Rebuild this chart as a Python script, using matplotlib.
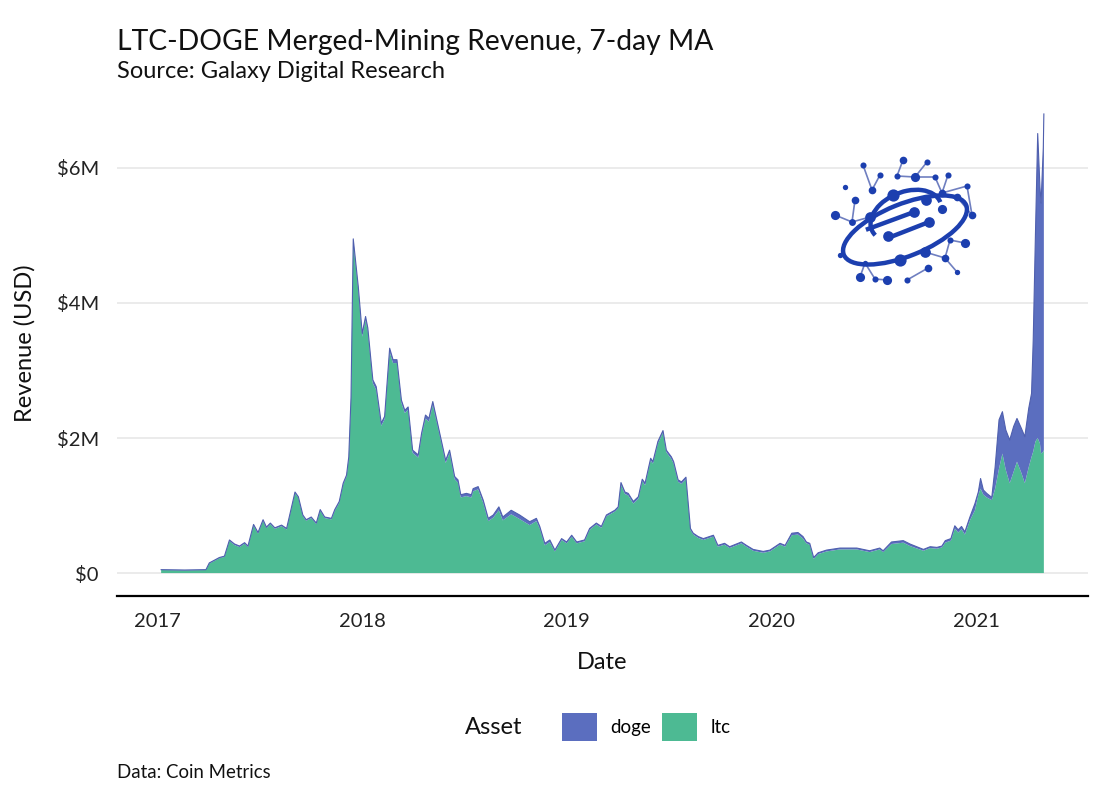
import matplotlib
matplotlib.use("Agg")
import matplotlib.pyplot as plt
from matplotlib.patches import Patch, Ellipse, Arc
from matplotlib.ticker import FuncFormatter
import numpy as np
import pandas as pd

# ---------------- data (USD millions, 7-day MA) ----------------
dates = [
    "2017-01-07", "2017-02-18", "2017-03-28", "2017-04-03", "2017-04-21", "2017-04-30",
    "2017-05-09", "2017-05-18", "2017-05-27", "2017-06-05", "2017-06-11", "2017-06-21",
    "2017-06-29", "2017-07-08", "2017-07-14", "2017-07-21", "2017-07-29", "2017-08-10",
    "2017-08-19", "2017-09-03", "2017-09-09", "2017-09-17", "2017-09-23", "2017-10-02",
    "2017-10-11", "2017-10-18", "2017-10-26", "2017-11-07", "2017-11-13", "2017-11-21",
    "2017-11-28", "2017-12-04", "2017-12-08", "2017-12-12", "2017-12-16", "2017-12-25",
    "2018-01-01", "2018-01-07", "2018-01-11", "2018-01-20", "2018-01-26", "2018-02-04",
    "2018-02-10", "2018-02-19", "2018-02-25", "2018-03-04", "2018-03-12", "2018-03-18",
    "2018-03-24", "2018-04-01", "2018-04-11", "2018-04-17", "2018-04-24", "2018-04-30",
    "2018-05-07", "2018-05-19", "2018-05-30", "2018-06-06", "2018-06-15", "2018-06-21",
    "2018-06-26", "2018-07-06", "2018-07-15", "2018-07-18", "2018-07-27", "2018-08-05",
    "2018-08-14", "2018-08-23", "2018-09-02", "2018-09-09", "2018-09-24", "2018-10-09",
    "2018-10-27", "2018-11-08", "2018-11-14", "2018-11-23", "2018-12-02", "2018-12-11",
    "2018-12-23", "2019-01-01", "2019-01-10", "2019-01-19", "2019-02-02", "2019-02-11",
    "2019-02-23", "2019-03-04", "2019-03-13", "2019-03-28", "2019-04-03", "2019-04-08",
    "2019-04-15", "2019-04-21", "2019-04-30", "2019-05-09", "2019-05-16", "2019-05-21",
    "2019-05-31", "2019-06-04", "2019-06-13", "2019-06-22", "2019-06-28", "2019-07-07",
    "2019-07-11", "2019-07-19", "2019-07-25", "2019-08-02", "2019-08-10", "2019-08-15",
    "2019-08-24", "2019-09-02", "2019-09-20", "2019-09-28", "2019-10-10", "2019-10-19",
    "2019-11-09", "2019-11-18", "2019-11-30", "2019-12-18", "2019-12-30", "2020-01-17",
    "2020-01-26", "2020-02-07", "2020-02-18", "2020-02-27", "2020-03-04", "2020-03-10",
    "2020-03-17", "2020-03-25", "2020-04-09", "2020-05-03", "2020-06-02", "2020-06-25",
    "2020-07-13", "2020-07-19", "2020-08-03", "2020-08-24", "2020-09-05", "2020-09-29",
    "2020-10-11", "2020-10-23", "2020-11-01", "2020-11-07", "2020-11-17", "2020-11-24",
    "2020-11-30", "2020-12-06", "2020-12-12", "2020-12-21", "2020-12-30", "2021-01-05",
    "2021-01-09", "2021-01-14", "2021-01-20", "2021-01-29", "2021-02-04", "2021-02-11",
    "2021-02-17", "2021-02-23", "2021-03-02", "2021-03-09", "2021-03-15", "2021-03-23",
    "2021-03-29", "2021-04-05", "2021-04-10", "2021-04-13", "2021-04-17", "2021-04-21",
    "2021-04-25", "2021-04-27", "2021-05-01", "2021-05-02",
]

ltc = [
    0.045, 0.04, 0.045, 0.14, 0.22, 0.24,
    0.475, 0.415, 0.385, 0.435, 0.385, 0.705,
    0.585, 0.775, 0.665, 0.725, 0.655, 0.695,
    0.645, 1.185, 1.115, 0.845, 0.775, 0.815,
    0.725, 0.925, 0.815, 0.795, 0.92, 1.04,
    1.31, 1.43, 1.69, 2.56, 4.90, 4.19,
    3.50, 3.75, 3.58, 2.81, 2.71, 2.18,
    2.28, 3.28, 3.11, 3.11, 2.52, 2.37,
    2.42, 1.78, 1.71, 2.03, 2.29, 2.24,
    2.49, 2.05, 1.63, 1.78, 1.39, 1.34,
    1.12, 1.14, 1.12, 1.21, 1.24, 1.04,
    0.77, 0.82, 0.93, 0.78, 0.87, 0.80,
    0.71, 0.77, 0.66, 0.41, 0.46, 0.32,
    0.49, 0.44, 0.54, 0.44, 0.47, 0.64,
    0.72, 0.67, 0.84, 0.91, 0.96, 1.31,
    1.17, 1.15, 1.03, 1.10, 1.36, 1.30,
    1.67, 1.62, 1.92, 2.08, 1.79, 1.69,
    1.62, 1.35, 1.32, 1.39, 0.64, 0.57,
    0.52, 0.49, 0.54, 0.39, 0.42, 0.37,
    0.44, 0.39, 0.33, 0.30, 0.32, 0.42,
    0.39, 0.56, 0.57, 0.51, 0.44, 0.42,
    0.21, 0.28, 0.32, 0.35, 0.35, 0.31,
    0.35, 0.31, 0.43, 0.45, 0.40, 0.33,
    0.37, 0.36, 0.38, 0.45, 0.48, 0.66,
    0.60, 0.65, 0.57, 0.78, 0.93, 1.16,
    1.25, 1.16, 1.12, 1.08, 1.25, 1.55,
    1.77, 1.53, 1.33, 1.50, 1.65, 1.48,
    1.33, 1.57, 1.72, 1.80, 1.95, 2.00,
    1.92, 1.77, 1.80, 1.82,
]

doge = [
    0.005, 0.005, 0.005, 0.01, 0.01, 0.01,
    0.015, 0.015, 0.015, 0.015, 0.015, 0.015,
    0.015, 0.015, 0.015, 0.015, 0.015, 0.015,
    0.015, 0.015, 0.015, 0.015, 0.015, 0.015,
    0.015, 0.015, 0.015, 0.015, 0.02, 0.02,
    0.02, 0.02, 0.03, 0.04, 0.05, 0.05,
    0.05, 0.05, 0.05, 0.05, 0.05, 0.04,
    0.04, 0.05, 0.05, 0.05, 0.04, 0.04,
    0.04, 0.04, 0.04, 0.04, 0.05, 0.05,
    0.05, 0.04, 0.04, 0.04, 0.04, 0.04,
    0.04, 0.04, 0.04, 0.04, 0.04, 0.04,
    0.04, 0.04, 0.05, 0.05, 0.06, 0.06,
    0.05, 0.04, 0.03, 0.03, 0.03, 0.02,
    0.02, 0.02, 0.02, 0.02, 0.02, 0.02,
    0.02, 0.02, 0.02, 0.02, 0.02, 0.03,
    0.03, 0.03, 0.03, 0.03, 0.03, 0.03,
    0.03, 0.03, 0.03, 0.03, 0.03, 0.03,
    0.03, 0.03, 0.03, 0.03, 0.02, 0.02,
    0.02, 0.02, 0.02, 0.02, 0.02, 0.02,
    0.02, 0.02, 0.02, 0.02, 0.02, 0.02,
    0.02, 0.03, 0.03, 0.03, 0.02, 0.02,
    0.02, 0.02, 0.02, 0.02, 0.02, 0.02,
    0.02, 0.02, 0.03, 0.03, 0.03, 0.02,
    0.02, 0.02, 0.02, 0.03, 0.03, 0.04,
    0.04, 0.04, 0.04, 0.05, 0.10, 0.04,
    0.15, 0.07, 0.06, 0.04, 0.32, 0.72,
    0.62, 0.59, 0.64, 0.67, 0.64, 0.66,
    0.69, 0.87, 0.94, 1.65, 3.08, 4.51,
    3.80, 3.71, 4.50, 4.98,
]

series_labels = ["doge", "ltc"]
y_ticks = [0, 2e6, 4e6, 6e6]
x_tick_years = ["2017", "2018", "2019", "2020", "2021"]

title = "LTC-DOGE Merged-Mining Revenue, 7-day MA"
subtitle = "Source: Galaxy Digital Research"
caption = "Data: Coin Metrics"

# decorative logo (pixel coords in the 1100x806 canvas)
logo_dots = [
    (863, 165, 4), (903, 160, 5), (927, 162, 4), (880, 175, 4), (897, 176, 4),
    (915, 177, 6), (935, 177, 4), (948, 175, 4), (845, 187, 3.5), (872, 190, 5),
    (893, 195, 8), (926, 200, 7), (942, 193, 5), (957, 197, 5), (967, 186, 4),
    (972, 215, 5), (855, 200, 5), (835, 215, 6), (852, 222, 4.5), (870, 217, 7),
    (914, 212, 7), (929, 222, 7), (942, 209, 6), (888, 236, 7), (950, 240, 4),
    (965, 243, 6), (925, 252, 7), (900, 260, 8), (945, 258, 5), (840, 255, 3.5),
    (865, 263, 3.5), (860, 277, 6), (875, 279, 4), (887, 280, 6), (907, 280, 4),
    (928, 268, 5), (957, 272, 3.5),
]
logo_links = [
    (863, 165, 872, 190), (880, 175, 872, 190), (903, 160, 897, 176), (897, 176, 915, 177),
    (927, 162, 915, 177), (915, 177, 935, 177), (935, 177, 942, 193), (948, 175, 942, 193),
    (942, 193, 967, 186), (967, 186, 972, 215), (957, 197, 972, 215), (835, 215, 852, 222),
    (852, 222, 855, 200), (852, 222, 870, 217), (950, 240, 965, 243), (950, 240, 945, 258),
    (945, 258, 957, 272), (925, 252, 945, 258), (928, 268, 907, 280), (865, 263, 860, 277),
    (865, 263, 875, 279), (875, 279, 887, 280),
]

# ---------------- figure ----------------
W, H = 1100, 806
plt.rcParams["font.family"] = ["Lato", "DejaVu Sans"]
fig = plt.figure(figsize=(W / 100, H / 100), dpi=100)
fig.patch.set_facecolor("white")


def fx(x):
    return x / W


def fy(y):
    return 1 - y / H


left, right, top, bottom = 117, 1088, 91, 596
ax = fig.add_axes([fx(left), fy(bottom), fx(right) - fx(left), fy(top) - fy(bottom)])

d = pd.to_datetime(dates)
ltc_usd = np.array(ltc) * 1e6
doge_usd = np.array(doge) * 1e6

col_doge = "#5B6EBF"
col_ltc = "#4DBA93"

ax.stackplot(d, ltc_usd, doge_usd, colors=[col_ltc, col_doge], linewidth=0, zorder=2)
ax.plot(d, ltc_usd + doge_usd, color="#4F5FAE", lw=0.8, zorder=3)

# ggplot-like expansion of 5%
span = d.max() - d.min()
ax.set_xlim(d.min() - 0.05 * span, d.max() + 0.05 * span)
ymax = max(ltc_usd + doge_usd)
ax.set_ylim(-0.05 * ymax, ymax * 1.05)

ax.set_yticks(y_ticks)
ax.yaxis.set_major_formatter(FuncFormatter(lambda v, p: "$0" if v == 0 else f"${v/1e6:.0f}M"))
ax.set_xticks(pd.to_datetime([f"{yr}-01-01" for yr in x_tick_years]))
ax.set_xticklabels(x_tick_years)
ax.grid(axis="y", color="#E6E6E6", lw=1.1, zorder=0)
ax.grid(axis="x", visible=False)
ax.set_axisbelow(True)
for s in ["top", "right", "left"]:
    ax.spines[s].set_visible(False)
ax.spines["bottom"].set_color("black")
ax.spines["bottom"].set_linewidth(1.6)
ax.tick_params(axis="both", length=0, labelsize=14.5, colors="#222222")
ax.tick_params(axis="y", pad=13)
ax.tick_params(axis="x", pad=12)
ax.set_facecolor("white")

ax.set_ylabel("Revenue (USD)", fontsize=17, color="#111111", labelpad=15)
ax.set_xlabel("Date", fontsize=17, color="#111111", labelpad=16)

# titles
fig.text(fx(117), fy(42), title, fontsize=20.3, color="#111111", va="center", ha="left")
fig.text(fx(117), fy(71), subtitle, fontsize=17, color="#111111", va="center", ha="left")
fig.text(fx(117), fy(773), caption, fontsize=13.4, color="#111111", va="center", ha="left")

# legend
fig.text(fx(494), fy(727), "Asset", fontsize=17, color="#111111", va="center", ha="center")
handles = [Patch(facecolor=col_doge, edgecolor="none"), Patch(facecolor=col_ltc, edgecolor="none")]
leg = fig.legend(handles, series_labels, loc="center", bbox_to_anchor=(fx(646), fy(727)),
                 ncol=2, frameon=False, fontsize=13.5, handlelength=1.9, handleheight=1.9,
                 handletextpad=0.7, columnspacing=0.55, borderpad=0, borderaxespad=0)

# logo overlay
lax = fig.add_axes([0, 0, 1, 1], zorder=5)
lax.set_xlim(0, W)
lax.set_ylim(H, 0)
lax.axis("off")
lax.patch.set_alpha(0)
logo_col = "#1C3FAF"
for x1, y1, x2, y2 in logo_links:
    lax.plot([x1, x2], [y1, y2], color="#6F7FC0", lw=1.2, zorder=1)
lax.add_patch(Ellipse((905, 230), 132, 52, angle=-22, fill=False, edgecolor=logo_col, lw=3.2, zorder=2))
lax.add_patch(Arc((906, 216), 74, 48, angle=-22, theta1=170, theta2=360, edgecolor=logo_col, lw=3.2, zorder=2))
lax.plot([868, 914], [229, 212], color=logo_col, lw=3.2, zorder=2)
lax.plot([888, 929], [238, 222], color=logo_col, lw=3.2, zorder=2)
for x, y, r in logo_dots:
    lax.plot(x, y, "o", color=logo_col, ms=r * 1.1, mec="none", zorder=3)

fig.savefig("out.png", dpi=100, facecolor="white")
